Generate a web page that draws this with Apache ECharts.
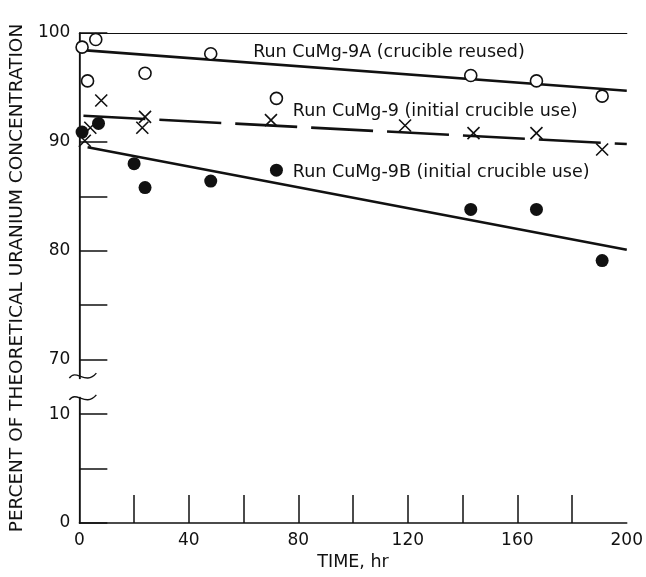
<!DOCTYPE html>
<html>
<head>
<meta charset="utf-8">
<title>Uranium concentration vs time</title>
<script src="https://cdn.jsdelivr.net/npm/echarts@6/dist/echarts.min.js"></script>
<style>
  html, body { margin: 0; padding: 0; background: #fff; }
  #chart { width: 646px; height: 577px; }
</style>
</head>
<body>
<div id="chart"></div>
<script>
// lower axis segment (0..10) is drawn shifted up by this offset (axis break 10 -> 70)
const BREAK_OFFSET = 55

// Run CuMg-9A (crucible reused), open circles
const run9aHours = [1, 3, 6, 24, 48, 72, 143, 167, 191]
const run9aPct = [98.7, 95.6, 99.4, 96.3, 98.1, 94.0, 96.1, 95.6, 94.2]

// Run CuMg-9 (initial crucible use), crosses
const run9Hours = [2, 4, 8, 23, 24, 70, 119, 144, 167, 191]
const run9Pct = [90.1, 91.3, 93.8, 91.3, 92.3, 92.0, 91.5, 90.8, 90.8, 89.3]

// Run CuMg-9B (initial crucible use), filled circles
const run9bHours = [1, 7, 20, 24, 48, 72, 143, 167, 191]
const run9bPct = [90.9, 91.7, 88.0, 85.8, 86.4, 87.4, 83.8, 83.8, 79.1]

// fitted lines, [start, end]
const fit9aHours = [0, 200]
const fit9aPct = [98.45, 94.7]
const fit9Hours = [1.5, 200]
const fit9Pct = [92.4, 89.8]
const fit9bHours = [3, 200]
const fit9bPct = [89.5, 80.1]

const runNames = [
  'Run CuMg-9A (crucible reused)',
  'Run CuMg-9 (initial crucible use)',
  'Run CuMg-9B (initial crucible use)'
]

// axis ticks / labels (y in display units)
const xTickValues = [20, 40, 60, 80, 100, 120, 140, 160, 180]
const xLabelValues = [0, 40, 80, 120, 160, 200]
const yTickValues = [55, 60, 65, 70, 75, 80, 85, 90, 100]
const yLabelValues = [55, 65, 70, 80, 90, 100]

const FONT = 'DejaVu Sans'
const INK = '#111'

const zip = (xs, ys) => xs.map((x, i) => [x, ys[i]])

const chart = echarts.init(document.getElementById('chart'), null, { renderer: 'canvas' })

function runLabel(text, coord) {
  return {
    coord: coord,
    symbol: 'circle',
    symbolSize: 0,
    label: {
      show: true,
      position: 'right',
      distance: 0,
      formatter: text,
      color: INK,
      fontFamily: FONT,
      fontSize: 17.5
    }
  }
}

function fitLine(name, data, dash, labelCoord, labelText) {
  return {
    name: name,
    type: 'line',
    data: data,
    symbol: 'none',
    silent: true,
    z: 2,
    lineStyle: { color: INK, width: 2.6, type: dash },
    markPoint: {
      silent: true,
      data: [runLabel(labelText, labelCoord)]
    }
  }
}

chart.setOption({
  animation: false,
  backgroundColor: '#fff',
  textStyle: { fontFamily: FONT, color: INK },
  grid: { left: 77, right: 18, top: 33, bottom: 54 },
  xAxis: [
    {
      type: 'value',
      position: 'bottom',
      min: 0,
      max: 200,
      interval: 20,
      name: 'TIME, hr',
      nameLocation: 'middle',
      nameGap: 29,
      nameTextStyle: { fontSize: 17.5, color: INK, fontFamily: FONT },
      axisLine: { lineStyle: { color: INK, width: 1.5 } },
      axisTick: {
        inside: true,
        length: 28,
        customValues: xTickValues,
        lineStyle: { color: INK, width: 1.5 }
      },
      axisLabel: {
        customValues: xLabelValues,
        margin: 9,
        fontSize: 17,
        color: INK,
        fontFamily: FONT
      },
      splitLine: { show: false }
    },
    {
      type: 'value',
      position: 'top',
      min: 0,
      max: 200,
      axisLine: { show: true, lineStyle: { color: INK, width: 1.2 } },
      axisTick: { show: false },
      axisLabel: { show: false },
      splitLine: { show: false }
    }
  ],
  yAxis: [
    {
      type: 'value',
      position: 'left',
      min: 55,
      max: 100,
      interval: 5,
      name: 'PERCENT OF THEORETICAL URANIUM CONCENTRATION',
      nameLocation: 'middle',
      nameGap: 48,
      nameRotate: 90,
      nameTextStyle: { fontSize: 18.5, color: INK, fontFamily: FONT },
      axisLine: { show: true, lineStyle: { color: INK, width: 1.5 } },
      axisTick: {
        inside: true,
        length: 28,
        customValues: yTickValues,
        lineStyle: { color: INK, width: 1.5 }
      },
      axisLabel: {
        customValues: yLabelValues,
        margin: 9,
        fontSize: 17,
        color: INK,
        fontFamily: FONT,
        formatter: v => (v < 70 ? String(v - BREAK_OFFSET) : String(v))
      },
      splitLine: { show: false }
    },
    {
      type: 'value',
      position: 'right',
      min: 55,
      max: 100,
      axisLine: { show: true, lineStyle: { color: INK, width: 1.2 } },
      axisTick: { show: false },
      axisLabel: { show: false },
      splitLine: { show: false }
    }
  ],
  series: [
    fitLine('fit 9A', zip(fit9aHours, fit9aPct), 'solid', [63.5, 98.2], runNames[0]),
    fitLine('fit 9', zip(fit9Hours, fit9Pct), [62, 14], [78, 92.75], runNames[1]),
    fitLine('fit 9B', zip(fit9bHours, fit9bPct), 'solid', [78, 87.15], runNames[2]),
    {
      name: runNames[0],
      type: 'scatter',
      data: zip(run9aHours, run9aPct),
      symbol: 'circle',
      symbolSize: 12,
      z: 4,
      itemStyle: { color: '#fff', borderColor: INK, borderWidth: 1.6, opacity: 1 }
    },
    {
      name: runNames[1],
      type: 'scatter',
      data: zip(run9Hours, run9Pct),
      symbol: 'path://M0,0L10,10M10,0L0,10',
      symbolSize: 12,
      z: 3,
      itemStyle: { color: 'none', borderColor: INK, borderWidth: 1.6, opacity: 1 }
    },
    {
      name: runNames[2],
      type: 'scatter',
      data: zip(run9bHours, run9bPct),
      symbol: 'circle',
      symbolSize: 13,
      z: 5,
      itemStyle: { color: INK, opacity: 1 }
    }
  ]
})

// axis break marks on the y axis
const breakTop = chart.convertToPixel({ gridIndex: 0 }, [0, 68.4])
const breakBottom = chart.convertToPixel({ gridIndex: 0 }, [0, 66.4])

function squiggle(p) {
  const cx = p[0]
  const cy = p[1]
  return {
    type: 'bezierCurve',
    z: 10,
    shape: {
      x1: cx - 10, y1: cy + 1,
      cpx1: cx - 3, cpy1: cy - 9,
      cpx2: cx + 6, cpy2: cy + 9,
      x2: cx + 17, y2: cy - 4
    },
    style: { stroke: INK, lineWidth: 1.4, fill: null }
  }
}

chart.setOption({
  graphic: [
    {
      type: 'rect',
      z: 9,
      shape: {
        x: breakTop[0] - 3,
        y: breakTop[1] + 2,
        width: 6,
        height: breakBottom[1] - breakTop[1] - 4
      },
      style: { fill: '#fff' }
    },
    squiggle(breakTop),
    squiggle(breakBottom)
  ]
})
</script>
</body>
</html>
